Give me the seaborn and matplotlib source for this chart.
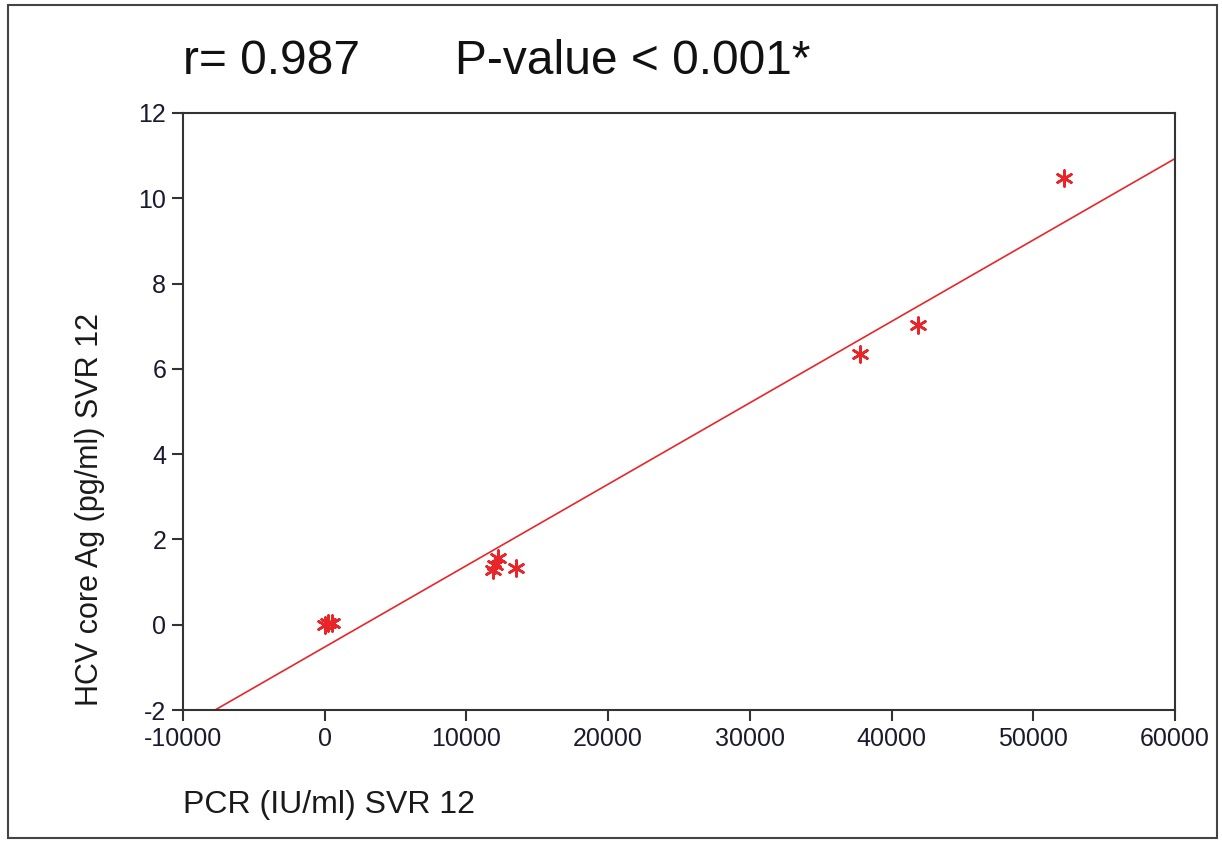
import matplotlib
matplotlib.use("Agg")
import matplotlib.pyplot as plt
import seaborn as sns
import pandas as pd
from matplotlib.patches import Rectangle

pcr = [0, 200, 500, 11900, 12000, 12200, 13500, 37800, 41900, 52200]
core_ag = [0.0, 0.05, 0.05, 1.29, 1.4, 1.57, 1.34, 6.36, 7.02, 10.47]
x_ticks = [-10000, 0, 10000, 20000, 30000, 40000, 50000, 60000]
y_ticks = [-2, 0, 2, 4, 6, 8, 10, 12]

sns.set_style("ticks")
plt.rcParams['font.family'] = ['Liberation Sans', 'DejaVu Sans']
plt.rcParams['axes.unicode_minus'] = False

df = pd.DataFrame({"pcr": pcr, "ag": core_ag})
red = "#e8262a"

fig = plt.figure(figsize=(12.22, 8.43), dpi=100)
ax = fig.add_axes([183/1222, 1-710/843, (1175-183)/1222, (710-113)/843])
ax.set_xlim(-10000, 60000)
ax.set_ylim(-2, 12)

sns.regplot(data=df, x="pcr", y="ag", ax=ax, ci=None, truncate=False,
            marker=(6, 2, 0),
            scatter_kws=dict(s=130, color=red, linewidths=1.9, alpha=1),
            line_kws=dict(color=red, lw=1.2))

ax.set_xlim(-10000, 60000)
ax.set_ylim(-2, 12)
ax.set_xticks(x_ticks)
ax.set_yticks(y_ticks)
ax.tick_params(axis="both", labelsize=18, length=8, width=1.5, color="#333333",
               labelcolor="#1a1a2e", pad=4)
for sp in ax.spines.values():
    sp.set_visible(True)
    sp.set_linewidth(1.5)
    sp.set_color("#333333")
ax.set_xlabel("")
ax.set_ylabel("")

fig.text(90/1222, 1-510/843, "HCV core Ag (pg/ml) SVR 12", fontsize=22,
         rotation=90, ha="center", va="center", color="#1a1a1a")
fig.text(183/1222, 1-805/843, "PCR (IU/ml) SVR 12", fontsize=23, ha="left",
         va="center", color="#1a1a1a")
fig.text(183/1222, 1-62/843, "r= 0.987", fontsize=34.5, ha="left", va="center",
         color="#111111")
fig.text(455/1222, 1-62/843, "P-value < 0.001*", fontsize=34.5, ha="left", va="center",
         color="#111111")

fig.patches.append(Rectangle((8/1222, 5/843), (1217-8)/1222, (838-5)/843,
                             transform=fig.transFigure, fill=False,
                             edgecolor="#444444", lw=1.5))

fig.savefig("out.png", dpi=100)
